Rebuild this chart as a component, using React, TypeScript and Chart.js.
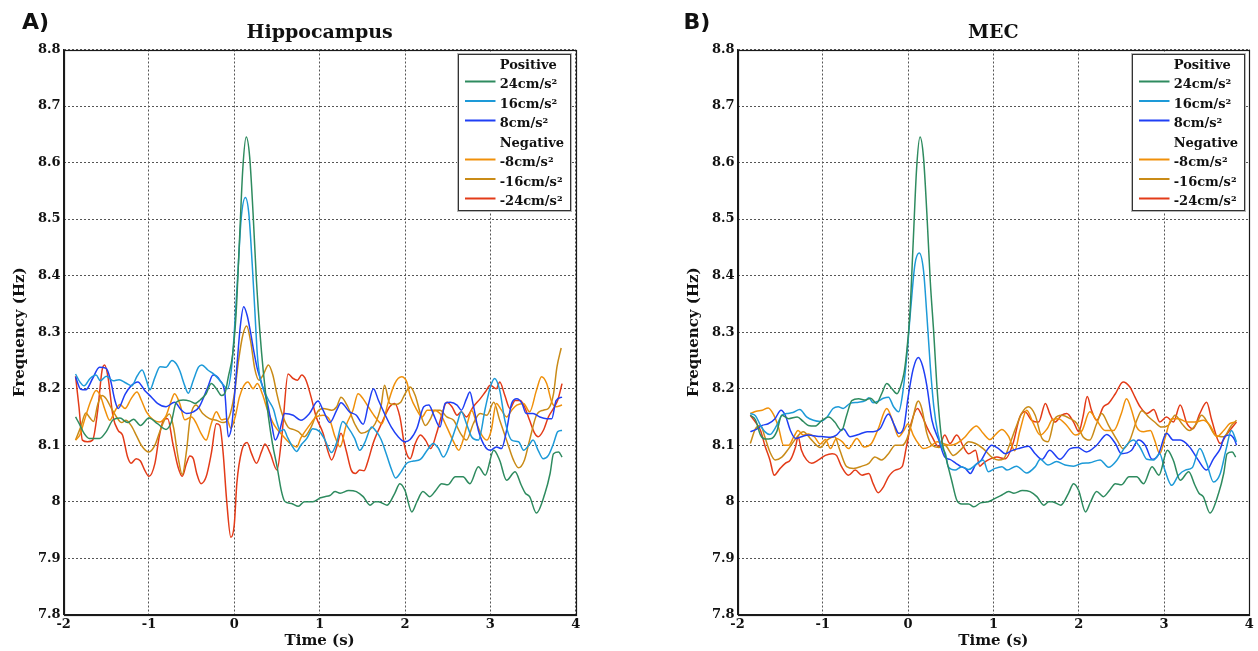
import React, { useEffect, useRef } from "react";
import { Chart, registerables } from "chart.js";

Chart.register(...registerables);

type Pts = [number, number][];

// ---------- data ----------
const xTickValues = [-2, -1, 0, 1, 2, 3, 4];
const yTickValues = [7.8, 7.9, 8, 8.1, 8.2, 8.3, 8.4, 8.5, 8.6, 8.7, 8.8];
const seriesLabels = ["24cm/s²", "16cm/s²", "8cm/s²", "-8cm/s²", "-16cm/s²", "-24cm/s²"];
const seriesColors = ["#2e8b5f", "#1d9ad8", "#1f3ff5", "#f0900a", "#c98b17", "#e33b18"];
const legendHeaders = ["Positive", "Negative"];
const panelTitles = ["Hippocampus", "MEC"];
const panelLetters = ["A)", "B)"];
const xAxisTitle = "Time (s)";
const yAxisTitle = "Frequency (Hz)";

// Hippocampus
const hcPos24: Pts = [[-1.86,8.150],[-1.82,8.139],[-1.76,8.121],[-1.70,8.112],[-1.58,8.112],[-1.50,8.124],[-1.42,8.145],[-1.34,8.148],[-1.25,8.140],[-1.18,8.146],[-1.10,8.135],[-1.00,8.148],[-0.90,8.138],[-0.80,8.128],[-0.74,8.140],[-0.68,8.176],[-0.60,8.180],[-0.52,8.178],[-0.46,8.174],[-0.40,8.180],[-0.33,8.191],[-0.27,8.209],[-0.21,8.200],[-0.15,8.188],[-0.11,8.192],[-0.07,8.221],[-0.02,8.260],[0.02,8.330],[0.06,8.460],[0.10,8.590],[0.14,8.645],[0.18,8.610],[0.22,8.510],[0.26,8.390],[0.30,8.300],[0.34,8.230],[0.40,8.150],[0.45,8.100],[0.50,8.063],[0.55,8.020],[0.59,8.001],[0.67,7.997],[0.75,7.992],[0.82,8.000],[0.92,8.000],[1.01,8.007],[1.06,8.009],[1.12,8.011],[1.18,8.018],[1.24,8.015],[1.34,8.020],[1.43,8.018],[1.51,8.009],[1.59,7.994],[1.65,8.000],[1.69,8.000],[1.79,7.994],[1.88,8.015],[1.94,8.032],[2.00,8.020],[2.08,7.982],[2.14,8.000],[2.21,8.018],[2.29,8.009],[2.36,8.020],[2.43,8.032],[2.50,8.030],[2.59,8.044],[2.68,8.044],[2.76,8.032],[2.86,8.062],[2.94,8.047],[3.04,8.091],[3.11,8.073],[3.19,8.038],[3.29,8.053],[3.36,8.030],[3.41,8.015],[3.46,8.009],[3.54,7.980],[3.64,8.015],[3.70,8.050],[3.74,8.085],[3.80,8.088],[3.84,8.079]];
const hcPos16: Pts = [[-1.86,8.226],[-1.81,8.212],[-1.76,8.205],[-1.69,8.218],[-1.62,8.224],[-1.57,8.214],[-1.50,8.222],[-1.42,8.214],[-1.35,8.216],[-1.27,8.210],[-1.20,8.205],[-1.14,8.222],[-1.08,8.233],[-1.03,8.215],[-0.99,8.198],[-0.93,8.220],[-0.87,8.239],[-0.80,8.238],[-0.73,8.250],[-0.68,8.244],[-0.64,8.232],[-0.58,8.205],[-0.54,8.192],[-0.48,8.215],[-0.42,8.238],[-0.38,8.242],[-0.31,8.233],[-0.25,8.227],[-0.19,8.218],[-0.13,8.207],[-0.08,8.200],[-0.03,8.240],[0.00,8.300],[0.04,8.400],[0.08,8.500],[0.13,8.538],[0.17,8.510],[0.21,8.420],[0.24,8.340],[0.27,8.260],[0.30,8.220],[0.34,8.200],[0.40,8.180],[0.46,8.163],[0.50,8.140],[0.54,8.125],[0.58,8.128],[0.62,8.115],[0.68,8.098],[0.73,8.089],[0.78,8.100],[0.85,8.112],[0.92,8.129],[1.00,8.124],[1.06,8.110],[1.14,8.087],[1.20,8.105],[1.27,8.142],[1.33,8.132],[1.41,8.112],[1.47,8.091],[1.53,8.105],[1.61,8.132],[1.66,8.125],[1.72,8.110],[1.78,8.085],[1.84,8.058],[1.89,8.042],[1.95,8.052],[2.02,8.068],[2.10,8.072],[2.18,8.075],[2.26,8.091],[2.33,8.103],[2.39,8.095],[2.45,8.079],[2.53,8.103],[2.61,8.138],[2.66,8.159],[2.72,8.138],[2.78,8.115],[2.86,8.109],[2.94,8.165],[3.00,8.203],[3.05,8.218],[3.11,8.197],[3.17,8.144],[3.25,8.109],[3.33,8.106],[3.39,8.091],[3.45,8.100],[3.50,8.109],[3.56,8.091],[3.62,8.076],[3.68,8.082],[3.74,8.103],[3.79,8.124],[3.84,8.126]];
const hcPos8: Pts = [[-1.86,8.221],[-1.80,8.199],[-1.74,8.198],[-1.66,8.218],[-1.58,8.238],[-1.50,8.236],[-1.45,8.215],[-1.40,8.180],[-1.36,8.165],[-1.28,8.190],[-1.21,8.205],[-1.13,8.212],[-1.05,8.197],[-0.97,8.185],[-0.90,8.174],[-0.80,8.168],[-0.70,8.176],[-0.62,8.162],[-0.56,8.156],[-0.48,8.159],[-0.41,8.168],[-0.31,8.203],[-0.25,8.224],[-0.17,8.215],[-0.11,8.191],[-0.07,8.115],[-0.03,8.135],[0.02,8.220],[0.07,8.310],[0.11,8.345],[0.15,8.330],[0.19,8.300],[0.23,8.265],[0.27,8.235],[0.30,8.220],[0.34,8.200],[0.38,8.180],[0.44,8.135],[0.48,8.109],[0.53,8.125],[0.59,8.156],[0.69,8.153],[0.78,8.144],[0.88,8.156],[0.98,8.178],[1.04,8.162],[1.12,8.140],[1.20,8.162],[1.25,8.175],[1.35,8.159],[1.43,8.153],[1.51,8.137],[1.57,8.171],[1.63,8.200],[1.69,8.179],[1.76,8.156],[1.84,8.132],[1.92,8.115],[2.00,8.106],[2.06,8.110],[2.14,8.130],[2.22,8.168],[2.28,8.171],[2.33,8.156],[2.41,8.132],[2.47,8.174],[2.53,8.176],[2.61,8.171],[2.66,8.162],[2.72,8.182],[2.76,8.194],[2.80,8.171],[2.86,8.126],[2.94,8.097],[3.00,8.091],[3.07,8.097],[3.13,8.094],[3.19,8.126],[3.25,8.174],[3.31,8.182],[3.37,8.174],[3.42,8.156],[3.50,8.156],[3.58,8.150],[3.66,8.147],[3.72,8.147],[3.77,8.179],[3.84,8.185]];
const hcNeg8: Pts = [[-1.86,8.109],[-1.81,8.118],[-1.75,8.147],[-1.68,8.179],[-1.62,8.197],[-1.57,8.188],[-1.52,8.165],[-1.46,8.144],[-1.40,8.160],[-1.34,8.172],[-1.28,8.165],[-1.21,8.182],[-1.14,8.194],[-1.09,8.180],[-1.03,8.159],[-0.95,8.145],[-0.88,8.141],[-0.80,8.152],[-0.74,8.178],[-0.70,8.191],[-0.64,8.174],[-0.58,8.145],[-0.50,8.150],[-0.45,8.140],[-0.39,8.121],[-0.33,8.109],[-0.27,8.138],[-0.21,8.159],[-0.15,8.145],[-0.09,8.147],[-0.04,8.130],[0.01,8.150],[0.06,8.185],[0.11,8.205],[0.16,8.212],[0.22,8.200],[0.27,8.209],[0.33,8.190],[0.39,8.162],[0.47,8.135],[0.55,8.120],[0.62,8.108],[0.68,8.100],[0.73,8.097],[0.78,8.113],[0.88,8.135],[0.96,8.150],[1.04,8.153],[1.12,8.144],[1.18,8.115],[1.24,8.097],[1.31,8.135],[1.39,8.162],[1.45,8.191],[1.51,8.182],[1.57,8.168],[1.65,8.150],[1.73,8.138],[1.80,8.174],[1.88,8.209],[1.96,8.221],[2.02,8.212],[2.06,8.188],[2.14,8.162],[2.20,8.150],[2.26,8.162],[2.33,8.162],[2.41,8.156],[2.49,8.132],[2.57,8.106],[2.63,8.091],[2.68,8.109],[2.74,8.144],[2.78,8.162],[2.84,8.138],[2.90,8.118],[2.96,8.109],[3.01,8.126],[3.07,8.174],[3.13,8.162],[3.19,8.150],[3.25,8.162],[3.31,8.171],[3.39,8.174],[3.46,8.159],[3.54,8.197],[3.60,8.221],[3.66,8.209],[3.72,8.176],[3.77,8.168],[3.84,8.171]];
const hcNeg16: Pts = [[-1.86,8.109],[-1.80,8.132],[-1.74,8.157],[-1.69,8.148],[-1.65,8.142],[-1.60,8.172],[-1.55,8.188],[-1.50,8.182],[-1.44,8.165],[-1.38,8.150],[-1.32,8.140],[-1.27,8.144],[-1.21,8.135],[-1.15,8.118],[-1.09,8.100],[-1.00,8.088],[-0.93,8.100],[-0.88,8.121],[-0.82,8.144],[-0.76,8.155],[-0.71,8.130],[-0.66,8.080],[-0.61,8.048],[-0.56,8.090],[-0.52,8.145],[-0.45,8.171],[-0.37,8.156],[-0.29,8.147],[-0.21,8.144],[-0.13,8.140],[-0.06,8.150],[0.00,8.190],[0.05,8.250],[0.10,8.295],[0.145,8.311],[0.19,8.285],[0.24,8.235],[0.29,8.215],[0.34,8.225],[0.40,8.242],[0.45,8.225],[0.50,8.190],[0.55,8.160],[0.63,8.132],[0.69,8.128],[0.75,8.124],[0.82,8.115],[0.90,8.132],[0.98,8.160],[1.04,8.165],[1.14,8.162],[1.20,8.168],[1.25,8.185],[1.33,8.168],[1.41,8.138],[1.49,8.121],[1.57,8.126],[1.65,8.138],[1.72,8.170],[1.76,8.206],[1.82,8.174],[1.88,8.172],[1.95,8.176],[2.00,8.191],[2.06,8.203],[2.12,8.188],[2.18,8.156],[2.24,8.135],[2.30,8.147],[2.35,8.162],[2.41,8.162],[2.49,8.150],[2.57,8.144],[2.65,8.121],[2.72,8.109],[2.80,8.138],[2.88,8.156],[2.96,8.153],[3.04,8.176],[3.11,8.144],[3.19,8.109],[3.27,8.074],[3.33,8.060],[3.40,8.074],[3.46,8.109],[3.54,8.153],[3.62,8.162],[3.68,8.165],[3.74,8.191],[3.78,8.238],[3.83,8.272]];
const hcNeg24: Pts = [[-1.86,8.222],[-1.82,8.168],[-1.78,8.109],[-1.72,8.106],[-1.66,8.109],[-1.60,8.162],[-1.55,8.232],[-1.52,8.242],[-1.48,8.221],[-1.42,8.150],[-1.36,8.126],[-1.31,8.118],[-1.25,8.079],[-1.21,8.068],[-1.15,8.076],[-1.10,8.072],[-1.05,8.056],[-1.00,8.045],[-0.93,8.068],[-0.88,8.115],[-0.82,8.147],[-0.78,8.147],[-0.72,8.103],[-0.66,8.062],[-0.61,8.045],[-0.56,8.068],[-0.52,8.081],[-0.48,8.076],[-0.44,8.050],[-0.39,8.032],[-0.33,8.044],[-0.27,8.085],[-0.21,8.138],[-0.17,8.135],[-0.13,8.085],[-0.09,8.003],[-0.04,7.937],[0.00,7.960],[0.03,8.033],[0.09,8.092],[0.15,8.105],[0.20,8.086],[0.26,8.068],[0.32,8.089],[0.36,8.102],[0.42,8.086],[0.50,8.056],[0.56,8.121],[0.63,8.226],[0.69,8.218],[0.74,8.215],[0.79,8.224],[0.84,8.215],[0.90,8.185],[0.96,8.150],[1.04,8.121],[1.10,8.088],[1.14,8.074],[1.20,8.097],[1.25,8.121],[1.31,8.091],[1.37,8.056],[1.42,8.050],[1.47,8.056],[1.52,8.055],[1.57,8.074],[1.63,8.105],[1.73,8.140],[1.82,8.168],[1.88,8.174],[1.94,8.150],[2.00,8.095],[2.06,8.076],[2.12,8.103],[2.18,8.118],[2.24,8.109],[2.30,8.094],[2.37,8.121],[2.43,8.153],[2.49,8.176],[2.55,8.168],[2.61,8.153],[2.66,8.159],[2.72,8.150],[2.80,8.168],[2.88,8.182],[2.94,8.194],[3.00,8.206],[3.07,8.200],[3.11,8.212],[3.17,8.188],[3.23,8.165],[3.29,8.179],[3.35,8.179],[3.40,8.168],[3.46,8.144],[3.52,8.121],[3.56,8.115],[3.62,8.126],[3.68,8.150],[3.74,8.165],[3.79,8.180],[3.84,8.209]];

// MEC
const mecPos24: Pts = [[-1.85,8.153],[-1.79,8.145],[-1.73,8.118],[-1.68,8.111],[-1.60,8.112],[-1.54,8.124],[-1.48,8.153],[-1.40,8.147],[-1.30,8.150],[-1.23,8.142],[-1.17,8.135],[-1.09,8.134],[-1.01,8.144],[-0.93,8.150],[-0.86,8.141],[-0.78,8.126],[-0.72,8.153],[-0.66,8.179],[-0.58,8.182],[-0.50,8.180],[-0.44,8.183],[-0.37,8.174],[-0.31,8.191],[-0.25,8.209],[-0.19,8.200],[-0.13,8.191],[-0.09,8.203],[-0.05,8.226],[-0.02,8.260],[0.02,8.330],[0.06,8.460],[0.10,8.590],[0.14,8.645],[0.18,8.610],[0.22,8.510],[0.26,8.390],[0.30,8.300],[0.34,8.200],[0.39,8.115],[0.45,8.074],[0.51,8.038],[0.57,8.003],[0.63,7.996],[0.71,7.996],[0.77,7.991],[0.85,7.998],[0.94,8.000],[1.02,8.006],[1.10,8.012],[1.18,8.018],[1.24,8.015],[1.34,8.020],[1.43,8.018],[1.51,8.009],[1.59,7.994],[1.65,8.000],[1.69,8.000],[1.79,7.994],[1.88,8.015],[1.94,8.032],[2.00,8.020],[2.08,7.982],[2.14,8.000],[2.21,8.018],[2.29,8.009],[2.36,8.020],[2.43,8.032],[2.50,8.030],[2.59,8.044],[2.68,8.044],[2.76,8.032],[2.86,8.062],[2.94,8.047],[3.04,8.091],[3.11,8.073],[3.19,8.038],[3.29,8.053],[3.36,8.030],[3.41,8.015],[3.46,8.009],[3.54,7.980],[3.64,8.015],[3.70,8.050],[3.74,8.085],[3.80,8.088],[3.84,8.079]];
const mecPos16: Pts = [[-1.85,8.156],[-1.79,8.152],[-1.73,8.135],[-1.68,8.124],[-1.62,8.119],[-1.54,8.135],[-1.48,8.153],[-1.42,8.156],[-1.35,8.158],[-1.27,8.163],[-1.19,8.150],[-1.11,8.144],[-1.03,8.142],[-0.95,8.150],[-0.88,8.165],[-0.82,8.168],[-0.76,8.165],[-0.68,8.174],[-0.58,8.176],[-0.50,8.179],[-0.46,8.184],[-0.41,8.175],[-0.35,8.178],[-0.29,8.183],[-0.23,8.185],[-0.17,8.168],[-0.11,8.159],[-0.07,8.185],[-0.02,8.250],[0.03,8.340],[0.08,8.420],[0.13,8.440],[0.18,8.410],[0.22,8.330],[0.26,8.240],[0.30,8.170],[0.35,8.120],[0.40,8.095],[0.44,8.084],[0.47,8.062],[0.55,8.056],[0.63,8.062],[0.71,8.057],[0.79,8.065],[0.88,8.074],[0.94,8.053],[1.02,8.059],[1.10,8.062],[1.16,8.056],[1.27,8.063],[1.39,8.051],[1.49,8.062],[1.55,8.075],[1.64,8.065],[1.74,8.071],[1.84,8.065],[1.94,8.063],[2.04,8.068],[2.13,8.069],[2.25,8.074],[2.35,8.061],[2.45,8.074],[2.54,8.096],[2.64,8.109],[2.72,8.096],[2.80,8.075],[2.88,8.074],[2.95,8.085],[3.01,8.056],[3.09,8.029],[3.17,8.047],[3.25,8.056],[3.33,8.060],[3.42,8.094],[3.50,8.068],[3.58,8.035],[3.66,8.050],[3.73,8.094],[3.79,8.126],[3.85,8.106]];
const mecPos8: Pts = [[-1.85,8.124],[-1.78,8.128],[-1.71,8.135],[-1.64,8.138],[-1.56,8.147],[-1.49,8.162],[-1.44,8.153],[-1.38,8.126],[-1.32,8.112],[-1.25,8.115],[-1.17,8.118],[-1.07,8.116],[-0.99,8.115],[-0.91,8.114],[-0.84,8.118],[-0.76,8.129],[-0.68,8.115],[-0.58,8.119],[-0.48,8.124],[-0.41,8.124],[-0.33,8.129],[-0.23,8.155],[-0.16,8.135],[-0.11,8.121],[-0.05,8.132],[0.00,8.185],[0.06,8.235],[0.12,8.255],[0.17,8.240],[0.22,8.205],[0.28,8.144],[0.36,8.109],[0.43,8.079],[0.49,8.075],[0.56,8.068],[0.62,8.062],[0.67,8.059],[0.73,8.050],[0.79,8.065],[0.86,8.074],[0.92,8.090],[0.98,8.100],[1.06,8.094],[1.14,8.085],[1.21,8.090],[1.29,8.094],[1.41,8.098],[1.49,8.085],[1.57,8.075],[1.66,8.091],[1.78,8.075],[1.90,8.094],[1.99,8.096],[2.09,8.088],[2.21,8.100],[2.33,8.119],[2.43,8.103],[2.50,8.085],[2.62,8.091],[2.70,8.109],[2.78,8.100],[2.86,8.075],[2.93,8.082],[3.03,8.121],[3.11,8.109],[3.19,8.109],[3.30,8.097],[3.40,8.074],[3.50,8.056],[3.58,8.076],[3.66,8.094],[3.71,8.115],[3.77,8.118],[3.83,8.109],[3.85,8.100]];
const mecNeg8: Pts = [[-1.85,8.156],[-1.78,8.160],[-1.71,8.162],[-1.64,8.166],[-1.58,8.155],[-1.52,8.132],[-1.46,8.100],[-1.40,8.100],[-1.34,8.115],[-1.29,8.126],[-1.23,8.118],[-1.17,8.120],[-1.10,8.115],[-1.03,8.102],[-0.97,8.110],[-0.91,8.094],[-0.84,8.112],[-0.77,8.106],[-0.70,8.094],[-0.60,8.112],[-0.52,8.097],[-0.43,8.103],[-0.35,8.129],[-0.25,8.165],[-0.19,8.147],[-0.11,8.115],[-0.05,8.126],[0.00,8.138],[0.06,8.118],[0.12,8.103],[0.18,8.094],[0.26,8.098],[0.34,8.106],[0.41,8.103],[0.49,8.100],[0.57,8.103],[0.67,8.115],[0.73,8.126],[0.80,8.134],[0.88,8.121],[0.96,8.110],[1.02,8.118],[1.10,8.128],[1.18,8.115],[1.25,8.090],[1.31,8.125],[1.39,8.162],[1.47,8.138],[1.55,8.118],[1.63,8.129],[1.69,8.145],[1.76,8.147],[1.86,8.135],[1.96,8.118],[2.04,8.126],[2.13,8.159],[2.21,8.144],[2.31,8.126],[2.41,8.126],[2.50,8.156],[2.56,8.182],[2.62,8.162],[2.68,8.132],[2.76,8.124],[2.84,8.126],[2.89,8.109],[2.95,8.085],[3.01,8.112],[3.09,8.147],[3.17,8.147],[3.27,8.141],[3.36,8.141],[3.46,8.144],[3.54,8.135],[3.62,8.115],[3.70,8.126],[3.77,8.138],[3.83,8.141]];
const mecNeg16: Pts = [[-1.85,8.103],[-1.79,8.129],[-1.73,8.135],[-1.68,8.115],[-1.62,8.088],[-1.56,8.074],[-1.48,8.079],[-1.40,8.094],[-1.30,8.115],[-1.23,8.124],[-1.13,8.109],[-1.03,8.096],[-0.95,8.109],[-0.86,8.115],[-0.80,8.091],[-0.72,8.062],[-0.64,8.059],[-0.54,8.063],[-0.46,8.068],[-0.39,8.079],[-0.31,8.074],[-0.23,8.085],[-0.15,8.100],[-0.07,8.100],[-0.02,8.109],[0.04,8.138],[0.10,8.174],[0.12,8.178],[0.16,8.165],[0.22,8.121],[0.28,8.100],[0.36,8.096],[0.43,8.100],[0.53,8.082],[0.63,8.094],[0.71,8.106],[0.79,8.103],[0.88,8.094],[0.98,8.079],[1.06,8.074],[1.12,8.076],[1.18,8.097],[1.26,8.130],[1.33,8.156],[1.41,8.168],[1.49,8.153],[1.57,8.112],[1.64,8.106],[1.72,8.147],[1.80,8.153],[1.90,8.147],[1.98,8.138],[2.05,8.115],[2.13,8.109],[2.21,8.138],[2.27,8.156],[2.35,8.135],[2.45,8.109],[2.52,8.094],[2.60,8.109],[2.68,8.144],[2.74,8.161],[2.82,8.150],[2.89,8.141],[2.97,8.132],[3.05,8.135],[3.13,8.153],[3.21,8.138],[3.30,8.126],[3.38,8.138],[3.44,8.153],[3.52,8.138],[3.60,8.118],[3.70,8.115],[3.79,8.135],[3.85,8.144]];
const mecNeg24: Pts = [[-1.85,8.153],[-1.79,8.141],[-1.73,8.126],[-1.68,8.100],[-1.62,8.074],[-1.57,8.047],[-1.50,8.059],[-1.44,8.068],[-1.38,8.074],[-1.32,8.097],[-1.29,8.115],[-1.25,8.091],[-1.19,8.074],[-1.13,8.068],[-1.05,8.074],[-0.97,8.082],[-0.89,8.085],[-0.84,8.082],[-0.78,8.062],[-0.70,8.047],[-0.62,8.056],[-0.54,8.047],[-0.46,8.050],[-0.41,8.032],[-0.35,8.016],[-0.29,8.026],[-0.23,8.044],[-0.15,8.056],[-0.07,8.062],[-0.02,8.097],[0.04,8.141],[0.11,8.165],[0.16,8.153],[0.22,8.132],[0.28,8.115],[0.36,8.097],[0.43,8.118],[0.49,8.103],[0.57,8.118],[0.65,8.097],[0.71,8.085],[0.79,8.091],[0.84,8.063],[0.88,8.068],[0.94,8.074],[1.04,8.079],[1.14,8.076],[1.23,8.103],[1.31,8.150],[1.37,8.159],[1.45,8.144],[1.53,8.141],[1.61,8.174],[1.66,8.156],[1.72,8.141],[1.80,8.153],[1.86,8.156],[1.94,8.141],[2.00,8.124],[2.05,8.150],[2.10,8.186],[2.15,8.162],[2.21,8.144],[2.29,8.168],[2.35,8.174],[2.43,8.191],[2.52,8.212],[2.60,8.203],[2.66,8.185],[2.72,8.168],[2.80,8.156],[2.88,8.163],[2.95,8.141],[3.03,8.150],[3.11,8.141],[3.19,8.171],[3.27,8.138],[3.34,8.129],[3.42,8.156],[3.50,8.176],[3.56,8.144],[3.66,8.103],[3.73,8.118],[3.85,8.141]];

const hippocampusSeries = [hcPos24, hcPos16, hcPos8, hcNeg8, hcNeg16, hcNeg24];
const mecSeries = [mecPos24, mecPos16, mecPos8, mecNeg8, mecNeg16, mecNeg24];

// ---------- layout ----------
const CANVAS_W = 629;
const CANVAS_H = 651;
const PLOT_TOP = 49.5;
const PLOT_BOTTOM = 614.8;
const Y_AXIS_W = 55.6;

const SERIF = "'DejaVu Serif', 'Liberation Serif', serif";

const decorPlugin = {
  id: "decor",
  afterDraw(chart: any, _args: any, opts: any) {
    const { ctx, chartArea: a } = chart;
    ctx.save();
    // plot frame
    const l = Math.round(a.left) + 0.5;
    const t = Math.round(a.top) + 0.5;
    const r = Math.round(a.right) + 0.5;
    const b = Math.round(a.bottom) + 0.5;
    ctx.strokeStyle = "#1a1a1a";
    ctx.lineWidth = 1.2;
    ctx.strokeRect(l, t, r - l, b - t);

    // title
    ctx.fillStyle = "#111";
    ctx.font = `bold 19px ${SERIF}`;
    ctx.textAlign = "center";
    ctx.textBaseline = "alphabetic";
    ctx.fillText(opts.title, (a.left + a.right) / 2, 38);

    // panel letter
    ctx.font = "bold 22px 'DejaVu Sans', 'Open Sans', sans-serif";
    ctx.textAlign = "left";
    ctx.fillText(opts.letter, opts.letterX, 29);

    // legend box
    const bw = 113;
    const bh = 157;
    const bx = Math.round(a.right - 4.7 - bw);
    const by = Math.round(a.top + 4.5);
    ctx.fillStyle = "#fff";
    ctx.fillRect(bx, by, bw, bh);
    ctx.lineWidth = 1;
    ctx.strokeStyle = "#b8b8b8";
    ctx.strokeRect(bx - 0.5, by - 0.5, bw + 1, bh + 1);
    ctx.strokeStyle = "#333";
    ctx.strokeRect(bx + 0.5, by + 0.5, bw - 1, bh - 1);

    const ds = chart.data.datasets;
    const rows: { text: string; color?: string }[] = [
      { text: legendHeaders[0] },
      { text: ds[0].label, color: ds[0].borderColor },
      { text: ds[1].label, color: ds[1].borderColor },
      { text: ds[2].label, color: ds[2].borderColor },
      { text: legendHeaders[1] },
      { text: ds[3].label, color: ds[3].borderColor },
      { text: ds[4].label, color: ds[4].borderColor },
      { text: ds[5].label, color: ds[5].borderColor },
    ];
    ctx.font = `bold 13px ${SERIF}`;
    ctx.textAlign = "left";
    ctx.textBaseline = "alphabetic";
    rows.forEach((row, i) => {
      const base = by + 14.5 + i * 19.5;
      if (row.color) {
        ctx.strokeStyle = row.color;
        ctx.lineWidth = 2;
        ctx.beginPath();
        ctx.moveTo(bx + 7, base - 6.5);
        ctx.lineTo(bx + 37.5, base - 6.5);
        ctx.stroke();
      }
      ctx.fillStyle = "#111";
      ctx.fillText(row.text, bx + 41.7, base);
    });
    ctx.restore();
  },
};

function PanelChart(props: {
  series: Pts[];
  title: string;
  letter: string;
  letterX: number;
  padLeft: number;
  padRight: number;
  left: number;
}) {
  const ref = useRef<HTMLCanvasElement | null>(null);
  useEffect(() => {
    if (!ref.current) return;
    const chart = new Chart(ref.current, {
      type: "line",
      data: {
        datasets: props.series.map((pts, i) => ({
          label: seriesLabels[i],
          data: pts.map(([x, y]) => ({ x, y })),
          borderColor: seriesColors[i],
          backgroundColor: seriesColors[i],
          borderWidth: 1.5,
          pointRadius: 0,
          fill: false,
          cubicInterpolationMode: "monotone" as const,
        })),
      },
      options: {
        animation: false,
        responsive: false,
        events: [],
        layout: {
          padding: { top: PLOT_TOP, bottom: 0, left: props.padLeft, right: props.padRight },
        },
        plugins: {
          legend: { display: false },
          tooltip: { enabled: false },
          title: { display: false },
          decor: { title: props.title, letter: props.letter, letterX: props.letterX },
        } as any,
        scales: {
          x: {
            type: "linear",
            min: xTickValues[0],
            max: xTickValues[xTickValues.length - 1],
            afterBuildTicks: (s: any) => {
              s.ticks = xTickValues.map((v) => ({ value: v }));
            },
            afterFit: (s: any) => {
              s.height = CANVAS_H - PLOT_BOTTOM;
            },
            ticks: {
              color: "#111",
              font: { family: SERIF, size: 13, weight: "bold" },
              padding: 2,
              maxRotation: 0,
              callback: (v: any) => String(v),
            },
            grid: { color: "#555", lineWidth: 1, drawTicks: false },
            border: { display: true, color: "#1a1a1a", width: 1, dash: [2, 2] },
            title: {
              display: true,
              text: xAxisTitle,
              color: "#111",
              font: { family: SERIF, size: 15, weight: "bold" },
              padding: { top: 0, bottom: 1 },
            },
          },
          y: {
            type: "linear",
            min: yTickValues[0],
            max: yTickValues[yTickValues.length - 1],
            afterBuildTicks: (s: any) => {
              s.ticks = yTickValues.map((v) => ({ value: v }));
            },
            afterFit: (s: any) => {
              s.width = Y_AXIS_W;
            },
            ticks: {
              color: "#111",
              font: { family: SERIF, size: 13, weight: "bold" },
              padding: 3,
              callback: (v: any) => String(Number(Number(v).toFixed(1))),
            },
            grid: { color: "#555", lineWidth: 1, drawTicks: false },
            border: { display: true, color: "#1a1a1a", width: 1, dash: [2, 2] },
            title: {
              display: true,
              text: yAxisTitle,
              color: "#111",
              font: { family: SERIF, size: 15, weight: "bold" },
              padding: { top: 3, bottom: 0 },
            },
          },
        },
      } as any,
      plugins: [decorPlugin],
    });
    return () => chart.destroy();
  }, []);
  return (
    <canvas
      ref={ref}
      width={CANVAS_W}
      height={CANVAS_H}
      style={{ position: "absolute", left: props.left, top: 0, width: CANVAS_W, height: CANVAS_H }}
    />
  );
}

export default function App() {
  return (
    <div
      style={{
        position: "absolute",
        left: 0,
        top: 0,
        width: 1258,
        height: 651,
        background: "#fff",
        overflow: "hidden",
      }}
    >
      <PanelChart
        series={hippocampusSeries}
        title={panelTitles[0]}
        letter={panelLetters[0]}
        letterX={22}
        padLeft={8}
        padRight={CANVAS_W - 575.7}
        left={0}
      />
      <PanelChart
        series={mecSeries}
        title={panelTitles[1]}
        letter={panelLetters[1]}
        letterX={54.5}
        padLeft={108.5 - Y_AXIS_W}
        padRight={CANVAS_W - 620.3}
        left={629}
      />
    </div>
  );
}
